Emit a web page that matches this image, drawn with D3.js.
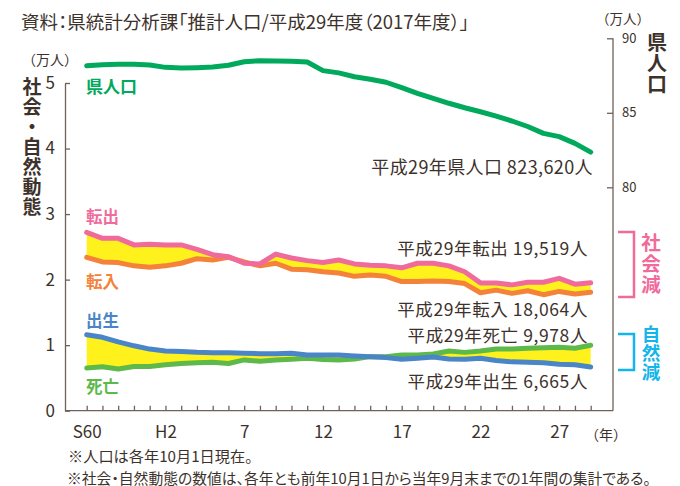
<!DOCTYPE html>
<html lang="ja">
<head>
<meta charset="utf-8">
<script src="https://cdn.jsdelivr.net/npm/d3@7/dist/d3.min.js"></script>
<style>
  body { margin: 0; background: #fff; }
  svg { display: block; font-family: "Noto Sans CJK JP", "Noto Sans", sans-serif; }
  .axis path, .axis line { stroke: #6e625a; stroke-width: 1.3; }
  .axis text { fill: #3d322b; font-family: "Noto Sans CJK JP", sans-serif; }
  .palt { font-feature-settings: "palt"; }
  .vert { writing-mode: vertical-rl; text-orientation: upright; }
</style>
</head>
<body>
<div id="chart"></div>
<script>
// 年度（昭和60年〜平成29年）
var years = [1985, 1986, 1987, 1988, 1989, 1990, 1991, 1992, 1993, 1994, 1995,
             1996, 1997, 1998, 1999, 2000, 2001, 2002, 2003, 2004, 2005, 2006,
             2007, 2008, 2009, 2010, 2011, 2012, 2013, 2014, 2015, 2016, 2017];
var tickYears  = [1985, 1990, 1995, 2000, 2005, 2010, 2015];
var tickLabels = ["S60", "H2", "7", "12", "17", "22", "27"];

// 県人口（万人、右軸）
var population = [88.16, 88.23, 88.26, 88.26, 88.21, 88.05, 88.01, 88.03, 88.07, 88.19, 88.43,
                  88.50, 88.48, 88.46, 88.41, 87.83, 87.68, 87.42, 87.25, 87.05, 86.69, 86.31,
                  85.97, 85.64, 85.34, 85.07, 84.78, 84.45, 84.08, 83.62, 83.40, 82.95, 82.362];
// 社会動態（万人、左軸）
var outMoves = [2.72, 2.63, 2.63, 2.53, 2.54, 2.53, 2.53, 2.46, 2.38, 2.35, 2.25,
                2.24, 2.39, 2.33, 2.29, 2.26, 2.30, 2.24, 2.22, 2.21, 2.18, 2.25,
                2.25, 2.21, 2.12, 1.95, 1.95, 1.92, 1.96, 1.96, 2.02, 1.93, 1.9519];
var inMoves  = [2.34, 2.27, 2.26, 2.21, 2.19, 2.21, 2.25, 2.32, 2.30, 2.34, 2.27,
                2.21, 2.25, 2.16, 2.15, 2.12, 2.10, 2.05, 2.07, 2.05, 1.97, 1.97,
                1.98, 1.97, 1.94, 1.80, 1.84, 1.79, 1.83, 1.77, 1.82, 1.78, 1.8064];
// 自然動態（万人、左軸）
var births = [1.16, 1.12, 1.05, 0.99, 0.94, 0.91, 0.905, 0.89, 0.885, 0.885, 0.875,
              0.87, 0.87, 0.875, 0.85, 0.85, 0.85, 0.835, 0.825, 0.81, 0.785, 0.80,
              0.82, 0.79, 0.785, 0.80, 0.765, 0.745, 0.74, 0.733, 0.71, 0.70, 0.6665];
var deaths = [0.65, 0.67, 0.635, 0.675, 0.675, 0.70, 0.72, 0.73, 0.74, 0.72, 0.775,
              0.755, 0.775, 0.785, 0.80, 0.78, 0.775, 0.79, 0.825, 0.825, 0.85, 0.85,
              0.865, 0.91, 0.89, 0.91, 0.94, 0.94, 0.953, 0.962, 0.967, 0.953, 0.9978];

var colText = "#3d322b";
var colPop = "#00a95c", colOut = "#f06b9c", colIn = "#f5823a";
var colBirth = "#4a85c7", colDeath = "#5cb94a", colFill = "#fff21c";
var colNat = "#13b5ea";

var svg = d3.select("#chart").append("svg")
  .attr("width", 680).attr("height", 486);

var x  = d3.scaleLinear().domain([1985, 2017]).range([86.7, 590.7]);
var yL = d3.scaleLinear().domain([0, 5]).range([410.7, 83]);
var yR = d3.scaleLinear().domain([80, 90]).range([187.3, 38.3]);

function text(str, px, py, size, opts) {
  opts = opts || {};
  return svg.append("text")
    .attr("class", opts.cls || null)
    .attr("x", px).attr("y", py)
    .attr("font-size", size)
    .attr("font-weight", opts.bold ? "bold" : null)
    .attr("letter-spacing", opts.ls || null)
    .attr("text-anchor", opts.anchor || "start")
    .attr("dominant-baseline", "central")
    .attr("fill", opts.color || colText)
    .text(str);
}

// vertical label, one text element
function vtext(str, px, top, size, spacing, color) {
  return svg.append("text")
    .attr("class", "vert")
    .attr("x", px).attr("y", top)
    .attr("font-size", size)
    .attr("font-weight", "bold")
    .attr("letter-spacing", spacing)
    .attr("fill", color)
    .text(str);
}

// title & units
text("資料：県統計分析課「推計人口/平成29年度（2017年度）」", 21, 21, 18.5, {cls: "palt"});
text("（万人）", 22, 59, 14);
text("（万人）", 596, 18, 13.5);
vtext("社会・自然動態", 32, 77, 19, 1, colText);
vtext("県人口", 657, 32, 20, 1, colText);

// left axis
var gL = svg.append("g").attr("class", "axis").attr("transform", "translate(65,0)")
  .call(d3.axisLeft(yL).ticks(5).tickSizeInner(-5).tickSizeOuter(0).tickPadding(10));
gL.selectAll("text").attr("font-size", 17);

// right axis
svg.append("line").attr("x1", 613).attr("x2", 613).attr("y1", yR(90)).attr("y2", yL(0))
  .attr("stroke", "#6e625a").attr("stroke-width", 1.3);
var gR = svg.append("g").attr("class", "axis").attr("transform", "translate(613,0)")
  .call(d3.axisRight(yR).tickValues([80, 85, 90]).tickSizeInner(-6).tickSizeOuter(0).tickPadding(9));
gR.select(".domain").remove();
gR.selectAll("text").attr("font-size", 13);

// bottom axis
svg.append("line").attr("x1", 65).attr("x2", 613).attr("y1", yL(0)).attr("y2", yL(0))
  .attr("stroke", "#6e625a").attr("stroke-width", 1.3);
var gB = svg.append("g").attr("class", "axis").attr("transform", "translate(0," + yL(0) + ")")
  .call(d3.axisBottom(x).tickValues(years).tickSizeInner(-5).tickSizeOuter(0).tickPadding(15)
    .tickFormat(function (d) {
      var i = tickYears.indexOf(d);
      return i < 0 ? "" : tickLabels[i];
    }));
gB.select(".domain").remove();
gB.selectAll("text").attr("font-size", 17);
text("（年）", 606, 434, 14, {anchor: "middle"});

// fills between series
function band(a, b) {
  return d3.area()
    .x(function (d, i) { return x(years[i]); })
    .y0(function (d, i) { return yL(a[i]); })
    .y1(function (d, i) { return yL(b[i]); })(years);
}
svg.append("path").attr("d", band(inMoves, outMoves)).attr("fill", colFill);
svg.append("path").attr("d", band(deaths, births)).attr("fill", colFill);

function line(vals, scale, color, w) {
  var gen = d3.line()
    .x(function (d, i) { return x(years[i]); })
    .y(function (d) { return scale(d); });
  svg.append("path").attr("d", gen(vals))
    .attr("fill", "none").attr("stroke", color).attr("stroke-width", w)
    .attr("stroke-linejoin", "round").attr("stroke-linecap", "round");
}
line(inMoves, yL, colIn, 5);
line(outMoves, yL, colOut, 5);
line(deaths, yL, colDeath, 5);
line(births, yL, colBirth, 5);
line(population, yR, colPop, 5);

// series labels
text("県人口", 86, 85, 17, {bold: true, color: colPop});
text("転出", 86, 216, 16.5, {bold: true, color: colOut});
text("転入", 86, 281, 16.5, {bold: true, color: colIn});
text("出生", 86, 320, 16.5, {bold: true, color: colBirth});
text("死亡", 86, 386, 16.5, {bold: true, color: colDeath});

text("平成29年県人口 823,620人", 593, 166, 18, {anchor: "end", ls: 0.4});
text("平成29年転出 19,519人", 588, 247, 17.5, {anchor: "end", ls: 0.6});
text("平成29年転入 18,064人", 588, 308.5, 17.5, {anchor: "end", ls: 0.6});
text("平成29年死亡 9,978人", 588, 334.5, 17.5, {anchor: "end", ls: 0.6});
text("平成29年出生 6,665人", 588, 380, 17.5, {anchor: "end", ls: 0.6});

// brackets
svg.append("path").attr("d", "M618,232H634V297H618")
  .attr("fill", "none").attr("stroke", colOut).attr("stroke-width", 2.5);
svg.append("path").attr("d", "M618,334H634V370H618")
  .attr("fill", "none").attr("stroke", colNat).attr("stroke-width", 2.5);
vtext("社会減", 651, 233, 19.5, 1.5, colOut);
vtext("自然減", 651, 325, 18.5, 0.5, colNat);

// notes
text("※人口は各年10月1日現在。", 68, 455, 15.2, {cls: "palt"});
text("※社会・自然動態の数値は、各年とも前年10月1日から当年9月末までの1年間の集計である。", 67, 477, 14.8, {cls: "palt"});
</script>
</body>
</html>
